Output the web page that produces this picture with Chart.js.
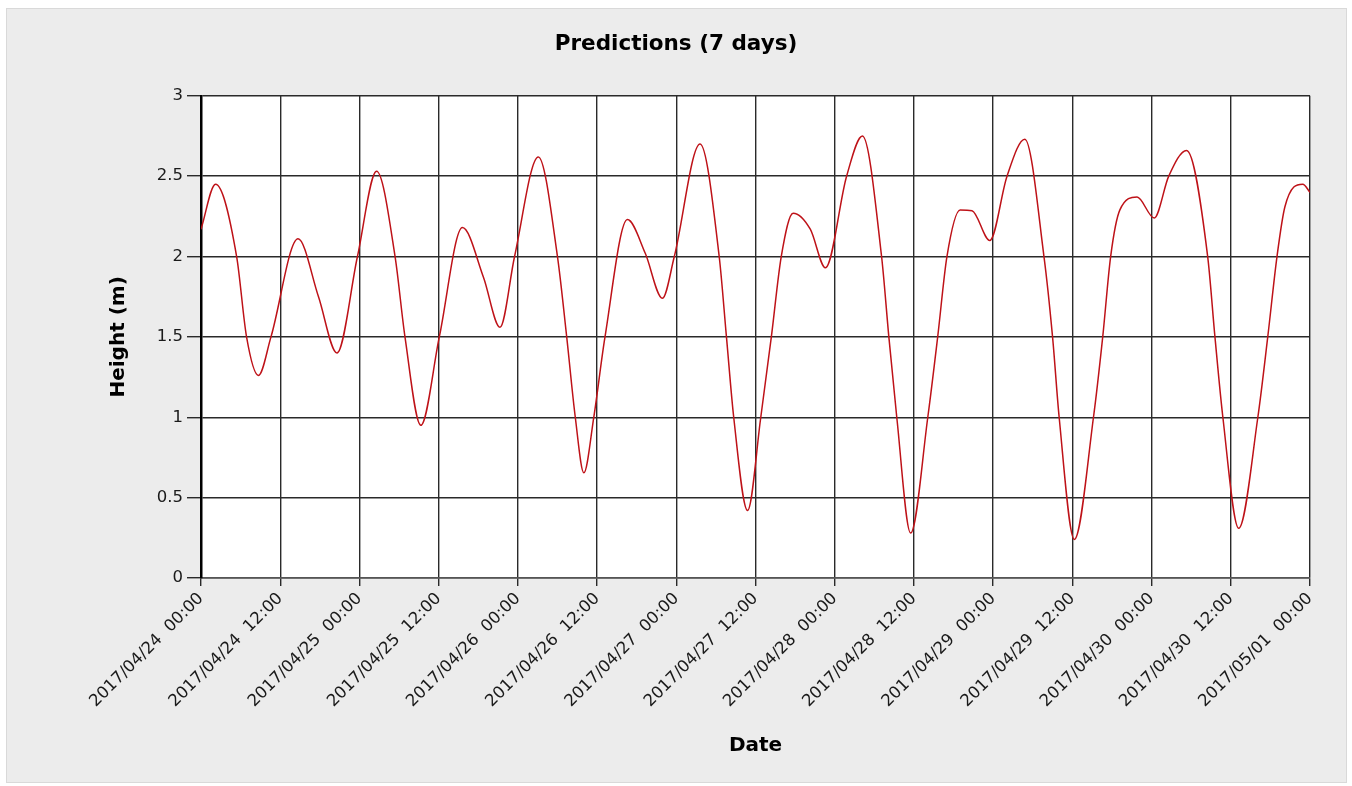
<!DOCTYPE html>
<html>
<head>
<meta charset="utf-8">
<title>Predictions (7 days)</title>
<script src="https://cdn.jsdelivr.net/npm/chart.js@4.4.1/dist/chart.umd.min.js"></script>
<style>
  html, body { margin: 0; padding: 0; background: #fff; }
  #panel {
    position: absolute; left: 6px; top: 8px;
    width: 1339px; height: 773px;
    background: #ececec; border: 1px solid #d9d9d9;
  }
  #myChart { position: absolute; left: 0; top: 0; }
</style>
</head>
<body>
<div id="panel"></div>
<canvas id="myChart" width="1352" height="786"></canvas>
<script>
"use strict";

// hours since 2017/04/24 00:00
const hours = [
  0, 2.2, 5.4, 6.9, 8.7, 10.6, 14.7, 17.8, 20.6, 23.7,
  26.6, 29.4, 30.9, 33.3, 36.1, 39.6, 42.8, 45.3, 47.5, 51.1,
  54.0, 55.4, 56.7, 58.0, 59.5, 61.2, 64.6, 67.3, 69.9, 71.7,
  75.6, 78.5, 79.6, 80.7, 82.8, 84.8, 86.4, 87.9, 89.7, 92.3,
  94.6, 97.8, 100.2, 103.1, 104.2, 105.4, 107.5, 110.1, 111.6, 113.0,
  115.0, 116.8, 119.5, 122.1, 124.8, 127.7, 129.0, 130.0, 132.3, 135.2,
  136.6, 137.8, 139.2, 141.8, 144.4, 146.6, 149.3, 152.5, 153.6, 154.8,
  157.2, 160.1, 161.6, 163.0, 164.2, 166.9, 168
];

// tide height (m)
const heights = [
  2.17, 2.45, 2.0, 1.5, 1.26, 1.5, 2.11, 1.75, 1.40, 2.0,
  2.53, 2.0, 1.5, 0.95, 1.5, 2.18, 1.87, 1.56, 2.0, 2.62,
  2.0, 1.5, 1.0, 0.655, 1.0, 1.5, 2.23, 2.02, 1.74, 2.0,
  2.70, 2.0, 1.5, 1.0, 0.42, 1.0, 1.5, 2.0, 2.27, 2.17,
  1.93, 2.5, 2.75, 2.0, 1.5, 1.0, 0.28, 1.0, 1.5, 2.0,
  2.29, 2.285, 2.10, 2.5, 2.73, 2.0, 1.5, 1.0, 0.24, 1.0,
  1.5, 2.0, 2.29, 2.37, 2.24, 2.5, 2.66, 2.0, 1.5, 1.0,
  0.31, 1.0, 1.5, 2.0, 2.31, 2.45, 2.40
];

const xTickLabels = [
  '2017/04/24  00:00', '2017/04/24  12:00',
  '2017/04/25  00:00', '2017/04/25  12:00',
  '2017/04/26  00:00', '2017/04/26  12:00',
  '2017/04/27  00:00', '2017/04/27  12:00',
  '2017/04/28  00:00', '2017/04/28  12:00',
  '2017/04/29  00:00', '2017/04/29  12:00',
  '2017/04/30  00:00', '2017/04/30  12:00',
  '2017/05/01  00:00'
];
const yTickLabels = ['0', '0.5', '1', '1.5', '2', '2.5', '3'];

const FONT = 'DejaVu Sans, Verdana, sans-serif';

// white plot background
const plotBg = {
  id: 'plotBg',
  beforeDraw(chart) {
    const {ctx, chartArea: a} = chart;
    ctx.save();
    ctx.fillStyle = '#fff';
    ctx.fillRect(a.left, a.top, a.right - a.left, a.bottom - a.top);
    ctx.restore();
  }
};

const points = hours.map((h, i) => ({x: h, y: heights[i]}));

const config = {
  type: 'line',
  data: {
    datasets: [{
      label: 'Height',
      data: points,
      borderColor: 'rgb(190, 18, 24)',
      borderWidth: 1.5,
      pointRadius: 0,
      fill: false,
      cubicInterpolationMode: 'monotone'
    }]
  },
  options: {
    responsive: false,
    animation: false,
    layout: { padding: { left: 42, right: 42, top: 0, bottom: 24 } },
    plugins: {
      legend: { display: false },
      tooltip: { enabled: false },
      title: {
        display: true,
        text: 'Predictions (7 days)',
        color: '#000',
        font: { family: FONT, size: 21.5, weight: 'bold' },
        padding: { top: 32, bottom: 38 }
      }
    },
    scales: {
      x: {
        type: 'linear',
        min: 0,
        max: 168,
        afterFit(scale) { scale.height = 184; },
        ticks: {
          stepSize: 12,
          autoSkip: false,
          maxRotation: 45,
          minRotation: 45,
          padding: 3,
          color: '#1a1a1a',
          font: { family: FONT, size: 16.5 },
          callback: (v) => xTickLabels[Math.round(v / 12)]
        },
        grid: { color: '#2a2a2a', lineWidth: 1.4, tickLength: 8 },
        border: { color: '#555', width: 1.5 },
        title: {
          display: true,
          text: 'Date',
          color: '#000',
          font: { family: FONT, size: 20, weight: 'bold' },
          padding: { top: 0, bottom: 4 }
        }
      },
      y: {
        min: 0,
        max: 3,
        afterFit(scale) { scale.width = 159; },
        ticks: {
          stepSize: 0.5,
          padding: 4,
          color: '#1a1a1a',
          font: { family: FONT, size: 16.5 },
          callback: (v) => yTickLabels[Math.round(v * 2)]
        },
        grid: { color: '#2a2a2a', lineWidth: 1.4, tickLength: 14 },
        border: { color: '#000', width: 2.5 },
        title: {
          display: true,
          text: 'Height (m)',
          color: '#000',
          font: { family: FONT, size: 20, weight: 'bold' },
          padding: { top: 65, bottom: 0 }
        }
      }
    }
  },
  plugins: [plotBg]
};

const myChart = new Chart(document.getElementById('myChart'), config);
</script>
</body>
</html>
